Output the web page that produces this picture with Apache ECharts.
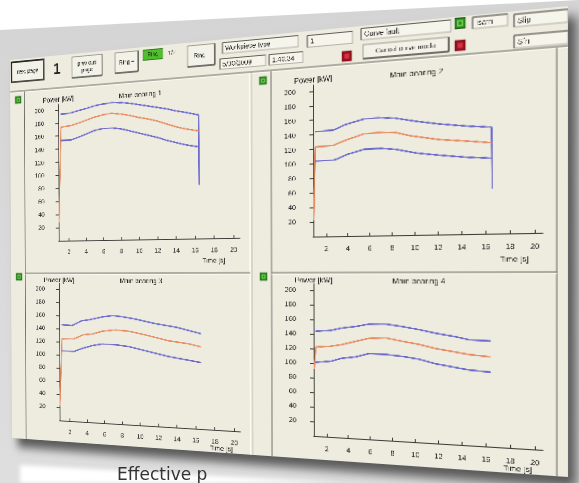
<!DOCTYPE html>
<html><head><meta charset="utf-8">
<script src="https://cdn.jsdelivr.net/npm/echarts@6/dist/echarts.min.js"></script>
<style>
html,body{margin:0;padding:0;}
body{width:579px;height:483px;overflow:hidden;background:#fff;position:relative;}
#bg{position:absolute;left:0;top:0;width:579px;height:483px;background:linear-gradient(180deg,#d4d4d4,#dedede);clip-path:polygon(0 30px,579px 0,579px 483px,0 483px);}
#wwrap{position:absolute;left:0;top:0;width:579px;height:483px;filter:blur(2px);}
#white{position:absolute;left:0;top:0;width:579px;height:483px;background:#fff;clip-path:polygon(20px 465px,345px 483px,20px 483px);}
#cap{position:absolute;left:117px;top:464px;font:17px/20px "DejaVu Sans",sans-serif;color:#333;white-space:nowrap;}
#flat{position:absolute;left:0;top:0;width:620px;height:440px;transform-origin:0 0;background:#eeecdf;box-shadow:8px 10px 10px rgba(0,0,0,.6);}
#chart{width:620px;height:440px;}
</style></head>
<body>
<div id="bg"></div>
<div id="flat"><div id="chart"></div></div>
<div id="wwrap"><div id="white"></div></div>
<div id="cap">Effective p</div>
<script>
// ---- data ----
const xTicks = [2,4,6,8,10,12,14,16,18,20];
const yTicks = [20,40,60,80,100,120,140,160,180,200];
const titles = ['Main bearing 1','Main bearing 2','Main bearing 3','Main bearing 4'];
const yName = 'Power [kW]';
const xName = 'Time [s]';
const b1Upper = [[1.1,193],[2.3,194],[3,196],[4,199],[5,202],[6,204],[7,205],[8,204],[9,202],[10,199],[11,196],[12,193],[13,190],[14,186],[15,183],[16.4,178],[16.45,77]];
const b1Middle = [[0.85,28],[1.1,173],[2.3,175],[3.5,179],[5,185],[6,188],[7,189],[8,187],[9,184],[10,180],[11,177],[12,173],[13,168],[14,163],[15,159],[16.4,155]];
const b1Lower = [[1.1,153],[2.3,153],[3.5,158],[5,165],[6,167],[7,167],[8,165],[9,161],[10,157],[11,153],[12,149],[13,144],[14,140],[15,136],[16.4,132]];
const b2Upper = [[1.0,144],[2.7,145],[2.9,146],[3.7,151],[4.5,154],[5.5,157.5],[6.8,158],[8.3,156],[10.2,150],[12.1,145],[14.5,140],[16.5,137],[16.55,58]];
const b2Middle = [[0.85,22],[1.0,123],[2.7,124],[3,126],[4,131],[5.5,137.5],[6.8,138],[8.3,137],[9.6,131.5],[12.1,124.5],[14.5,120.5],[16.5,117]];
const b2Lower = [[1.0,103.5],[2.7,104],[3,105],[4,111],[5.5,116.5],[6.8,117],[8.3,114.5],[10.2,108],[12.1,104],[14.5,99.5],[16.5,97]];
const b3Upper = [[1.1,145.5],[2.3,144.5],[3.4,152],[4.2,153.5],[5.8,158.5],[7,160.5],[8.1,159],[9.5,156],[11.6,150],[14,145],[16.6,136.5]];
const b3Middle = [[0.85,22],[1.1,124],[2.5,124.5],[3.6,131],[4.6,132.5],[5.8,137],[7.3,139.5],[8.8,138],[10.5,133.5],[13.1,125.5],[15.3,121.5],[16.6,117.5]];
const b3Lower = [[1.1,106],[2.5,105.5],[3.6,111],[4.6,115],[5.8,118],[7.3,117.5],[8.8,115],[10.5,110],[13.1,102.5],[15.3,98],[16.6,95]];
const b4Upper = [[1.0,143.5],[2.4,145],[3.4,148.5],[4.7,151],[5.9,154.5],[7.4,155],[8.9,152],[10.3,148.5],[11.8,144],[13.5,140],[14.6,136.5],[16.4,135.5]];
const b4Middle = [[0.85,92],[1.0,122],[2.4,123.5],[3.4,126],[4.7,131],[5.9,135.5],[7.4,136.5],[8.9,132.5],[10.3,129],[11.8,124],[13.5,120],[14.6,117.5],[16.4,115]];
const b4Lower = [[1.0,101],[2.4,103],[3.4,107.5],[4.7,110],[5.9,115],[7.4,114.5],[8.9,112.5],[10.3,109.5],[11.8,104],[13.5,100],[14.6,97.5],[16.4,95.5]];
const toolbarLabels = {next:'next page', page:'1', prev:'previous\npage', ringPlus:'Ring +', ring:'Ring', ringOf:'1/2', ringMinus:'Ring -',
  workpiece:'Workpiece type', date:'5/30/2009', time:'1:40:34', wpNo:'1', fault:'Curve fault', cancel:'Cancel curve mode', isafn:'Isafn', slip:'Slip', sfn:'Sfn'};

// ---- perspective of the photographed screen ----
const W = 620, H = 440;
const quad = [[10,60],[568,6],[568,477],[12,438]];
(function(){
  const [x0,y0]=quad[0],[x1,y1]=quad[1],[x2,y2]=quad[2],[x3,y3]=quad[3];
  const sx=x0-x1+x2-x3, sy=y0-y1+y2-y3;
  const dx1=x1-x2, dx2=x3-x2, dy1=y1-y2, dy2=y3-y2;
  const den=dx1*dy2-dx2*dy1;
  const g=(sx*dy2-dx2*sy)/den, h=(dx1*sy-sx*dy1)/den;
  const a=x1-x0+g*x1, b=x3-x0+h*x3, c=x0;
  const d=y1-y0+g*y1, e=y3-y0+h*y3, f=y0;
  const m=[a/W,d/W,0,g/W, b/H,e/H,0,h/H, 0,0,1,0, c,f,0,1];
  document.getElementById('flat').style.transform='matrix3d('+m.join(',')+')';
})();

const FONT = '"Liberation Sans", Arial, sans-serif';
const BLUE = '#6b69cc', ORANGE = '#e88a60', AX = '#3a3a36';
const grids = [
  {left:65, top:56, width:223, height:154.8},
  {left:370, top:56, width:227, height:154.8},
  {left:65, top:259.8, width:223, height:156.1},
  {left:370, top:259.8, width:227, height:156.1}
];
const groups = [[b1Upper,b1Middle,b1Lower],[b2Upper,b2Middle,b2Lower],[b3Upper,b3Middle,b3Lower],[b4Upper,b4Middle,b4Lower]];

const xAxis = grids.map((g,i)=>({gridIndex:i,type:'value',min:0.8,max:20.6,
  axisLine:{onZero:false,lineStyle:{color:AX,width:1.1}},
  axisTick:{inside:true,length:3,customValues:xTicks,lineStyle:{color:AX}},
  axisLabel:{customValues:xTicks,fontSize:7.5,color:'#333',margin:9,fontFamily:FONT},
  splitLine:{show:false}}));
const yAxis = grids.map((g,i)=>({gridIndex:i,type:'value',min:0,max:208,
  axisLine:{onZero:false,lineStyle:{color:AX,width:1.1}},
  axisTick:{length:4,customValues:yTicks,lineStyle:{color:AX}},
  axisLabel:{customValues:yTicks,fontSize:7.5,color:'#333',margin:19,fontFamily:FONT},
  splitLine:{show:false}}));
const series = [];
groups.forEach((gr,i)=>{
  [[gr[0],BLUE],[gr[1],ORANGE],[gr[2],BLUE]].forEach(([d,c])=>{
    series.push({type:'line',xAxisIndex:i,yAxisIndex:i,data:d,symbol:'none',silent:true,clip:false,
      lineStyle:{color:c,width:1.5},itemStyle:{color:c}});
  });
});

// ---- graphic helpers ----
function rect(x,y,w,h,fill,stroke,lw){return {type:'rect',silent:true,shape:{x:x,y:y,width:w,height:h},style:{fill:fill,stroke:stroke||null,lineWidth:lw||1}};}
function line(x1,y1,x2,y2,c,w){return {type:'line',silent:true,shape:{x1:x1,y1:y1,x2:x2,y2:y2},style:{stroke:c,lineWidth:w||1}};}
function text(x,y,s,size,al,weight){al=al||'center';return {type:'text',silent:true,style:{x:x,y:y,text:s,fill:'#222',
  font:(weight||'normal')+' '+size+'px '+FONT,textAlign:al,align:al,textVerticalAlign:'middle',verticalAlign:'middle',lineHeight:size+1}};}
function button(x,y,w,h,label,focus,size){return [
  rect(x,y,w,h,'#f3f2e9',focus?'#2a2a2a':'#9c9b92',focus?1.6:1),
  line(x+w,y,x+w,y+h,'#55554f',1.2), line(x,y+h,x+w,y+h,'#55554f',1.2),
  text(x+w/2,y+h/2+0.5,label,size||7)];}
function field(x,y,w,h,label){return [
  rect(x,y,w,h,'#f6f5ec','#b3b2a7',1),
  line(x,y,x+w,y,'#5d5d57',1), line(x,y,x,y+h,'#5d5d57',1),
  text(x+3,y+h/2+0.5,label,7.5,'left')];}
function greenSq(x,y,s){return [rect(x,y,s,s,'#2d8a22','#1b5512',0.8), rect(x+s*0.2,y+s*0.2,s*0.6,s*0.6,'#6ed04c',null), rect(x+s*0.35,y+s*0.35,s*0.3,s*0.3,'#2d8a22',null)];}
function redSq(x,y,s){return [rect(x,y,s,s,'#9c0f1c','#5a0810',0.8), rect(x+s*0.25,y+s*0.25,s*0.5,s*0.5,'#d23444',null)];}

const L = toolbarLabels;
let G = [];
// frames
G.push(line(0,37,620,37,'#6d6c64',1), line(0,38.3,620,38.3,'#fbfaf2',1));
G.push(line(19.5,38,19.5,440,'#6d6c64',1), line(324,38,324,440,'#6d6c64',1), line(610,38,610,440,'#6d6c64',1));
G.push(line(300,38,300,440,'#fbfaf2',1.4), line(302,38,302,440,'#bdbcb0',1));
G.push(line(19.5,248,300,248,'#6d6c64',1), line(324,248,610,248,'#6d6c64',1));
G.push(line(19.5,249.3,300,249.3,'#fbfaf2',1), line(324,249.3,610,249.3,'#fbfaf2',1));
G = G.concat(greenSq(7,43,8), greenSq(311,43,8), greenSq(7,248,8), greenSq(311,248,8));
// titles and axis names
const tPos = [[170,52],[477,52],[170,257],[479,257]];
titles.forEach((t,i)=>G.push(text(tPos[i][0],tPos[i][1],t,8)));
const yPos = [[65,50.5],[370,50.5],[65,256],[370,256]];
yPos.forEach(p=>G.push(text(p[0],p[1],yName,8)));
const xPos = [[258,235],[571,236],[266,436],[574,436]];
xPos.forEach(p=>G.push(text(p[0],p[1],xName,7.5)));
// toolbar
G = G.concat(button(2,3,44,23,L.next,true,6.5));
G.push(text(63.7,16,L.page,17,'center','bold'));
G = G.concat(button(83.5,3.5,39,23.5,L.prev,false,6.5));
G = G.concat(button(139,3.5,29,22.5,L.ringPlus,false,6.5));
G.push(rect(174,3.5,24,11,'#4fc02c','#2b7a18',0.8), text(186,9.3,L.ring,6.5));
G.push(text(209,9.3,L.ringOf,7));
G = G.concat(button(228,3.5,32,22.5,L.ringMinus,false,6.5));
G = G.concat(field(269,3.5,85,11.5,L.workpiece));
G = G.concat(field(266,20.5,52,11,L.date));
G = G.concat(field(322,20.5,37,11,L.time));
G = G.concat(field(364,4.5,48,12,L.wpNo));
G = G.concat(redSq(401,24,10));
G = G.concat(field(421,2.5,90,11.5,L.fault));
G = G.concat(button(423,19,86,14,L.cancel,false,7));
G = G.concat(greenSq(515,1.5,10), redSq(515,23,10));
G = G.concat(field(532,2,33,11,L.isafn));
G = G.concat(field(571,3,49,12,L.slip));
G = G.concat(field(571,23,49,12,L.sfn));

const chart = echarts.init(document.getElementById('chart'), null, {renderer:'canvas', devicePixelRatio:3});
chart.setOption({
  animation:false,
  backgroundColor:'transparent',
  textStyle:{fontFamily:FONT},
  grid:grids,
  xAxis:xAxis,
  yAxis:yAxis,
  series:series,
  graphic:{elements:G}
});
</script>
</body></html>
